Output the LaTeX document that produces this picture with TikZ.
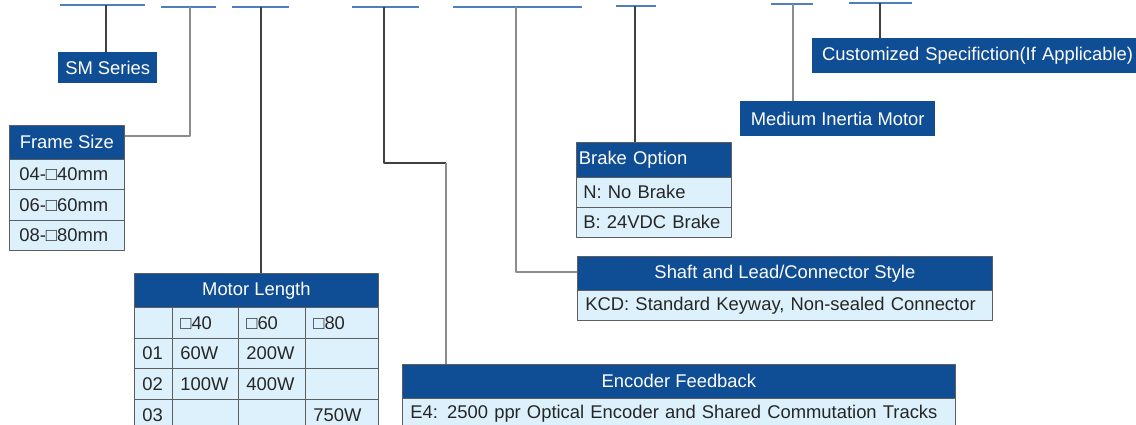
\documentclass[tikz,border=0pt]{standalone}
\usepackage{fontspec}
\setmainfont{Liberation Sans}
\usepackage{tikz}
\usetikzlibrary{positioning,calc}
\definecolor{hdrblue}{HTML}{0F4D94}
\definecolor{rowblue}{HTML}{DDF1FC}
\definecolor{segblue}{HTML}{4F7FBF}
\definecolor{edgegray}{HTML}{5E5E5E}
\definecolor{leadgray}{HTML}{8C8C8C}
\tikzset{
  txt/.style={font=\fontsize{18.4pt}{21pt}\selectfont},
  hdr/.style={txt,draw=edgegray,line width=0.8pt,fill=hdrblue,text=white,inner sep=0pt,anchor=north west},
  cell/.style={txt,draw=edgegray,line width=0.8pt,fill=rowblue,text=black!85,inner ysep=0pt,inner xsep=8pt,anchor=north west,align=left},
  tag/.style={txt,fill=hdrblue,text=white,inner sep=0pt,anchor=north west},
  seg/.style={segblue,line width=2pt},
  lead/.style={black!75,line width=1.3pt},
  leadg/.style={leadgray,line width=1.3pt}
}
\begin{document}
\begin{tikzpicture}[x=1pt,y=-1pt,line join=round]
  \useasboundingbox (0,0) rectangle (1136,424);
  \coordinate (d1) at (106,5);\coordinate (d2) at (190,6.5);\coordinate (d3) at (261,6.5);\coordinate (d4) at (384,6.5);
  \coordinate (d5) at (516,6.5);\coordinate (d6) at (635,5.5);\coordinate (d7) at (793,3.5);\coordinate (d8) at (880,3);
  \foreach \a/\b/\y in {60/145/5,161/216/6.5,232/289/6.5,352/419/6.5,453/582/6.5,616/656/5.5,771/813/3.5,849/912/3}{\draw[seg] (\a,\y)--(\b,\y);}
  \node[tag,minimum width=99pt,minimum height=31pt] (sm) at (58,52) {SM Series};
  \node[tag,minimum width=195pt,minimum height=35pt] (mim) at (740,101) {Medium Inertia Motor};
  \node[tag,minimum width=340pt,minimum height=35pt,align=left,text width=320pt,inner xsep=10pt] (cust) at (812,38) {Customized Specifiction(If Applicable)};
  \node[hdr,minimum width=115pt,minimum height=34pt] (frame) at (9,125) {Frame Size};
  \foreach \t [count=\i] in {04-□40mm,06-□60mm,08-□80mm}{\node[cell,text width=95pt,inner xsep=10pt,minimum height=30.3pt] (fs\i) at (9,{159+30.3*(\i-1)}) {\t};}
  \node[hdr,minimum width=244pt,minimum height=34pt] (mlen) at (134,273) {Motor Length};
  \foreach \a/\b/\c/\d [count=\i from 0] in {{}/□40/□60/□80,01/60W/200W/{},02/100W/400W/{},03/{}/{}/750W}{
    \foreach \x/\w/\t [count=\j] in {134/38/\a,172/66/\b,238/67/\c,305/73/\d}{
      \pgfmathsetmacro\tw{\w-16}
      \node[cell,text width=\tw pt,minimum height=30.7pt] (ml\i\j) at (\x,{307+30.7*\i}) {\t};}}
  \node[hdr,minimum width=155pt,minimum height=35pt,align=left,text width=150pt,inner xsep=2.5pt] (brake) at (576,142) {Brake Option};
  \node[cell,text width=141pt,inner xsep=7pt,minimum height=30pt] (br1) at (576,177) {N: No Brake};
  \node[cell,text width=141pt,inner xsep=7pt,minimum height=30pt] (br2) at (576,207) {B: 24VDC Brake};
  \node[hdr,minimum width=415pt,minimum height=34pt] (shaft) at (577,256) {Shaft and Lead/Connector Style};
  \node[cell,text width=399pt,minimum height=30pt] (sh1) at (577,290) {KCD: Standard Keyway, Non-sealed Connector};
  \node[hdr,minimum width=553pt,minimum height=34pt] (enc) at (402,364) {Encoder Feedback};
  \node[cell,text width=537pt,minimum height=31pt] (en1) at (402,398) {E4:\enspace 2500 ppr Optical Encoder and Shared Commutation Tracks};
  \coordinate (k4) at (446,163);
  \draw[lead] (d1)--(d1 |- sm.north);
  \draw[leadg] (d2) |- ([yshift=-11pt]frame.north east);
  \draw[lead] (d3)--(d3 |- mlen.north);
  \draw[lead] (d4) |- (k4);
  \draw[leadg] (k4)--(k4 |- enc.north);
  \draw[leadg] (d5) |- ([yshift=-16pt]shaft.north west);
  \draw[lead] (d6)--(d6 |- brake.north);
  \draw[leadg] (d7)--(d7 |- mim.north);
  \draw[lead] (d8)--(d8 |- cust.north);
\end{tikzpicture}
\end{document}
